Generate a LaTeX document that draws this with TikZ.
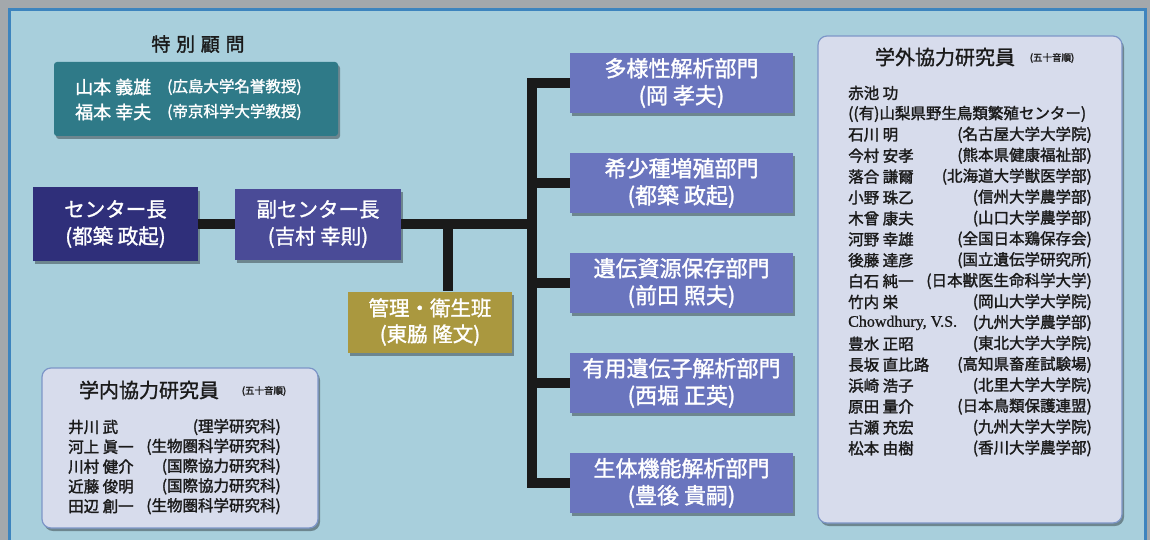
\documentclass[tikz,border=0pt]{standalone}
\usepackage{fontspec}
\setmainfont{Noto Sans CJK JP}
\newfontfamily\jpb{Noto Sans CJK JP}[FakeBold=1.4]
\newfontfamily\jpm{Noto Sans CJK JP}[FakeBold=1.7]
\newfontfamily\jpt{Noto Sans CJK JP}[FakeBold=1.6,LetterSpace=30]
\newfontfamily\serb{Liberation Serif}[FakeBold=0.8]
\usetikzlibrary{shadows}
\definecolor{outer}{HTML}{A3A8AC}
\definecolor{panel}{HTML}{A8CFDC}
\definecolor{frame}{HTML}{3D84BE}
\definecolor{dircol}{HTML}{2F2F7A}
\definecolor{vicecol}{HTML}{4A4B97}
\definecolor{deptcol}{HTML}{6A75BE}
\definecolor{admcol}{HTML}{AA983F}
\definecolor{tealcol}{HTML}{2F7A88}
\definecolor{listcol}{HTML}{D7DCEC}
\definecolor{listedge}{HTML}{7D96C8}
\definecolor{ink}{HTML}{1A1A1A}
\definecolor{conncol}{HTML}{1A1A1A}
\tikzset{
  shad/.style={drop shadow={shadow xshift=2pt,shadow yshift=-3pt,fill=black,opacity=.35}},
  unitbox/.style={shad,inner sep=0pt,text=white,align=center},
  dirbox/.style={unitbox,fill=dircol,minimum width=165pt,minimum height=73pt,font=\jpb\fontsize{20.5}{27}\selectfont},
  vicebox/.style={unitbox,fill=vicecol,minimum width=166pt,minimum height=71pt,font=\jpb\fontsize{20.5}{27}\selectfont},
  deptbox/.style={unitbox,fill=deptcol,minimum width=223pt,minimum height=60pt,font=\jpb\fontsize{22}{27}\selectfont},
  admbox/.style={unitbox,fill=admcol,minimum width=164pt,minimum height=61pt,font=\jpb\fontsize{20.5}{26}\selectfont},
  listbox/.style={shad,fill=listcol,draw=listedge,line width=1.2pt,rounded corners=9pt,inner sep=0pt},
  conn/.style={draw=conncol,line width=10pt,line join=miter},
  listname/.style={anchor=west,inner sep=0pt,text=ink,font=\jpm\fontsize{15.5}{15.5}\selectfont},
  listaff/.style={anchor=east,inner sep=0pt,text=ink,font=\jpm\fontsize{15.5}{15.5}\selectfont},
  listtitle/.style={inner sep=0pt,text=ink,font=\jpb\fontsize{20}{20}\selectfont},
  smallnote/.style={inner sep=0pt,text=ink,font=\jpb\fontsize{9.5}{10}\selectfont},
  advname/.style={anchor=west,inner sep=0pt,text=white,font=\jpb\fontsize{18}{18}\selectfont},
  advaff/.style={anchor=west,inner sep=0pt,text=white,font=\jpb\fontsize{15.5}{15.5}\selectfont},
}
\begin{document}
\begin{tikzpicture}[x=1pt,y=-1pt]
\useasboundingbox (0,0) rectangle (1150,540);
% background and frame
\fill[outer] (0,0) rectangle (1150,540);
\fill[panel] (9.5,9.5) rectangle (1145,540);
\draw[frame,line width=3pt] (9.5,541) -- (9.5,9.5) -- (1145,9.5) -- (1145,541);

% special advisers
\node[listtitle,font=\jpt\fontsize{19}{19}\selectfont] (advtitle) at (198,44) {特別顧問};
\node[shad,fill=tealcol,rounded corners=3pt,minimum width=284pt,minimum height=74pt,inner sep=0pt] (adv) at (196,99) {};
\node[advname] (adv1n) at (75,87) {山本 義雄};
\node[advaff] (adv1a) at (167,87) {(広島大学名誉教授)};
\node[advname] (adv2n) at (75,112) {福本 幸夫};
\node[advaff] (adv2a) at (167,112) {(帝京科学大学教授)};

% main units
\node[dirbox] (dir) at (115.5,224) {センター長\\(都築 政起)};
\node[vicebox] (vice) at (318,224) {副センター長\\(吉村 幸則)};
\node[admbox] (adm) at (430,322) {管理・衛生班\\(東脇 隆文)};
\node[deptbox] (d1) at (681.5,83) {多様性解析部門\\(岡 孝夫)};
\node[deptbox] (d2) at (681.5,183) {希少種増殖部門\\(都築 政起)};
\node[deptbox] (d3) at (681.5,283) {遺伝資源保存部門\\(前田 照夫)};
\node[deptbox] (d4) at (681.5,383) {有用遺伝子解析部門\\(西堀 正英)};
\node[deptbox] (d5) at (681.5,483) {生体機能解析部門\\(豊後 貴嗣)};

% connectors
\coordinate (tt) at (532,83);
\coordinate (aj) at (448,224);
\draw[conn] (dir.east) -- (vice.west);
\draw[conn] (vice.east) -- (vice.east -| tt);
\draw[conn] (d1.west) -| (d5.west -| tt) -- (d5.west);
\draw[conn] (d2.west) -- (d2.west -| tt);
\draw[conn] (d3.west) -- (d3.west -| tt);
\draw[conn] (d4.west) -- (d4.west -| tt);
\draw[conn] (aj) -- (aj |- adm.north);

% internal collaborators
\node[listbox,minimum width=276pt,minimum height=160pt] (inbox) at (180,448) {};
\node[listtitle] (intitle) at (149,390) {学内協力研究員};
\node[smallnote] (innote) at (264,391) {(五十音順)};
\foreach \n/\a [count=\i from 0] in {井川 武/(理学研究科),河上 眞一/(生物圏科学研究科),川村 健介/(国際協力研究科),近藤 俊明/(国際協力研究科),田辺 創一/(生物圏科学研究科)}{
  \node[listname] (inn\i) at (68,427+19.8*\i) {\n};
  \node[listaff] (ina\i) at (281,427+19.8*\i) {\a};
}

% external collaborators
\node[listbox,minimum width=304pt,minimum height=487pt] (exbox) at (970,279.5) {};
\node[listtitle] (extitle) at (945,57) {学外協力研究員};
\node[smallnote] (exnote) at (1052,58) {(五十音順)};
\node[listname] (exn0) at (848,93) {赤池 功};
\node[listname] (exn1) at (848,113.9) {((有)山梨県野生鳥類繁殖センター)};
\foreach \n/\a [count=\i from 2] in {石川 明/(名古屋大学大学院),今村 安孝/(熊本県健康福祉部),落合 謙爾/(北海道大学獣医学部),小野 珠乙/(信州大学農学部),木曾 康夫/(山口大学農学部),河野 幸雄/(全国日本鶏保存会),後藤 達彦/(国立遺伝学研究所),白石 純一/(日本獣医生命科学大学),竹内 栄/(岡山大学大学院)}{
  \node[listname] (exn\i) at (848,93+20.9*\i) {\n};
  \node[listaff] (exa\i) at (1092,93+20.9*\i) {\a};
}
\node[listname,font=\serb\fontsize{16}{16}\selectfont] (exn11) at (848,93+20.9*11) {Chowdhury, V.S.};
\node[listaff] (exa11) at (1092,93+20.9*11) {(九州大学農学部)};
\foreach \n/\a [count=\i from 12] in {豊水 正昭/(東北大学大学院),長坂 直比路/(高知県畜産試験場),浜崎 浩子/(北里大学大学院),原田 量介/(日本鳥類保護連盟),古瀬 充宏/(九州大学大学院),松本 由樹/(香川大学農学部)}{
  \node[listname] (exn\i) at (848,93+20.9*\i) {\n};
  \node[listaff] (exa\i) at (1092,93+20.9*\i) {\a};
}
\end{tikzpicture}
\end{document}
